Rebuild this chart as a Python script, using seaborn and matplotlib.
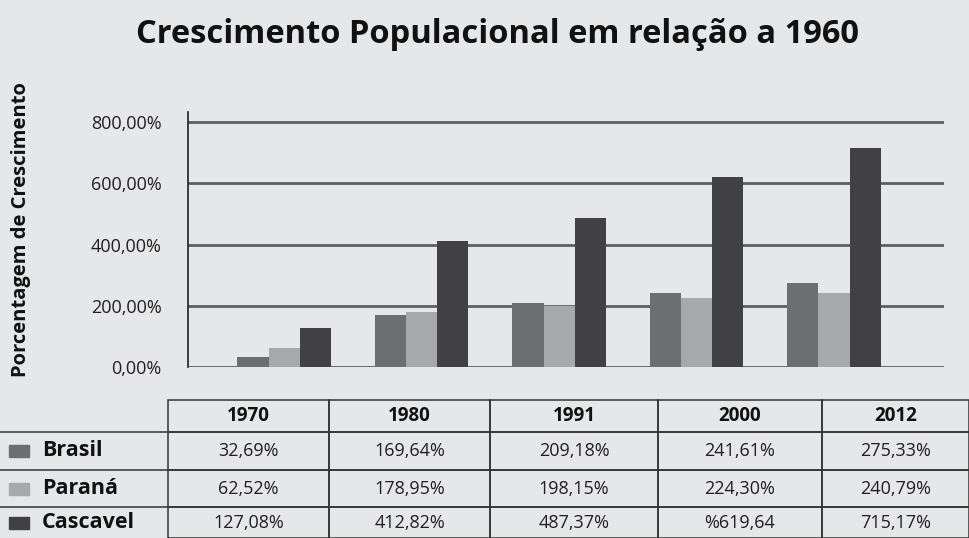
import pandas as pd
import seaborn as sns
import matplotlib.pyplot as plt
from matplotlib.patches import Rectangle
from matplotlib.ticker import FuncFormatter

anos = ['1970', '1980', '1991', '2000', '2012']
regioes = ['Brasil', 'Paraná', 'Cascavel']
brasil = [32.69, 169.64, 209.18, 241.61, 275.33]
parana = [62.52, 178.95, 198.15, 224.30, 240.79]
cascavel = [127.08, 412.82, 487.37, 619.64, 715.17]
# textos da tabela (o original tem "%619,64")
textos_brasil = ['32,69%', '169,64%', '209,18%', '241,61%', '275,33%']
textos_parana = ['62,52%', '178,95%', '198,15%', '224,30%', '240,79%']
textos_cascavel = ['127,08%', '412,82%', '487,37%', '%619,64', '715,17%']
cores = ['#6d6e71', '#a7a8ab', '#414042']

fundo = '#e6e7e8'
sns.set_theme(style='white', rc={'figure.facecolor': fundo, 'axes.facecolor': fundo})
plt.rcParams['font.family'] = ['Open Sans', 'DejaVu Sans']

df = pd.DataFrame({
    'Ano': anos * 3,
    'Região': [r for r in regioes for _ in anos],
    'Valor': brasil + parana + cascavel,
})

fig = plt.figure(figsize=(9.69, 5.38), dpi=100)
W, H = 969, 538

# eixo principal do gráfico de barras
ax = fig.add_axes([188 / W, 1 - 367 / H, (944 - 188) / W, (367 - 112) / H])
sns.barplot(data=df, x='Ano', y='Valor', hue='Região', palette=cores,
            width=0.68, saturation=1, linewidth=0, legend=False, ax=ax)
ax.set_xlim(-0.7, 4.8)
ax.set_ylim(0, 833)
ax.set_yticks([0, 200, 400, 600, 800])
ax.yaxis.set_major_formatter(FuncFormatter(lambda v, p: f'{v:.2f}%'.replace('.', ',')))
ax.yaxis.grid(True, color='#5e5f62', linewidth=2)
ax.set_axisbelow(True)
ax.tick_params(axis='y', length=13, width=2, color='#5e5f62', labelsize=13,
               labelcolor='#231f20', pad=6)
ax.tick_params(axis='x', bottom=False, labelbottom=False)
for s in ['top', 'right', 'bottom']:
    ax.spines[s].set_visible(False)
ax.spines['left'].set_color('#231f20')
ax.spines['left'].set_linewidth(1.2)
ax.set_xlabel('')
ax.set_ylabel('')

fig.text(497 / W, 1 - 43 / H, 'Crescimento Populacional em relação a 1960',
         ha='center', va='baseline', fontsize=23.5, fontweight='bold', color='#111111')
fig.text(21 / W, 1 - 230 / H, 'Porcentagem de Crescimento', rotation=90,
         ha='center', va='center', fontsize=14.5, fontweight='bold', color='#111111')

# tabela de dados abaixo do gráfico
tab_ax = fig.add_axes([0, 0, 1, 138 / H])
tab_ax.axis('off')
larguras = [168, 161, 161, 168, 164, 147]
alturas = [32, 38, 37, 31]
linhas = [[''] + anos,
          ['Brasil'] + textos_brasil,
          ['Paraná'] + textos_parana,
          ['Cascavel'] + textos_cascavel]
tabela = tab_ax.table(cellText=linhas, bbox=[0, 0, 1, 1], cellLoc='center')
tabela.auto_set_font_size(False)
for (r, c), cell in tabela.get_celld().items():
    cell.set_width(larguras[c])
    cell.set_height(alturas[r])
    cell.set_facecolor('none')
    cell.set_edgecolor('#333333')
    cell.set_linewidth(1.1)
    txt = cell.get_text()
    txt.set_color('#231f20')
    if c == 0:
        cell.visible_edges = 'open' if r == 0 else 'T'
        if r > 0:
            txt.set_ha('left')
            cell._loc = 'left'
            cell.PAD = 0.25
            txt.set_fontsize(15.5)
            txt.set_fontweight('bold')
            txt.set_color('#111111')
    elif r == 0:
        txt.set_fontsize(13.5)
        txt.set_fontweight('bold')
        txt.set_color('#111111')
    else:
        txt.set_fontsize(13)

# quadrados de legenda ao lado dos nomes
total = sum(alturas)
topo = total
for i, cor in enumerate(cores):
    topo -= alturas[i]
    centro = (topo - alturas[i + 1] / 2) / total
    tab_ax.add_patch(Rectangle((9 / W, centro - 6 / 138), 20 / W, 12 / 138,
                               color=cor, transform=tab_ax.transAxes, clip_on=False))

fig.savefig('out.png', dpi=100, facecolor=fundo)
